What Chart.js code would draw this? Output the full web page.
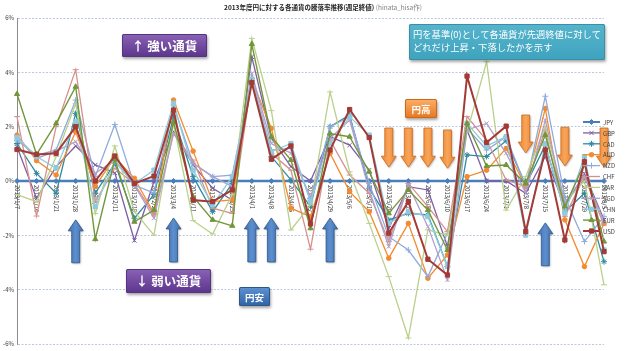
<!DOCTYPE html>
<html><head><meta charset="utf-8">
<script src="https://cdn.jsdelivr.net/npm/chart.js@4/dist/chart.umd.min.js"></script>
<style>html,body{margin:0;padding:0;background:#fff;}#wrap{width:640px;height:351px;position:relative;}</style>
</head><body><div id="wrap"><canvas id="c" width="640" height="351"></canvas></div>
<script>
const categories = ['2013/1/7','2013/1/14','2013/1/21','2013/1/28','2013/2/4','2013/2/11','2013/2/18','2013/2/25','2013/3/4','2013/3/11','2013/3/18','2013/3/25','2013/4/1','2013/4/8','2013/4/15','2013/4/22','2013/4/29','2013/5/6','2013/5/13','2013/5/20','2013/5/27','2013/6/3','2013/6/10','2013/6/17','2013/6/24','2013/7/1','2013/7/8','2013/7/15','2013/7/22','2013/7/29','2013/8/5'];
const JPY = [0,0,0,0,0,0,0,0,0,0,0,0,0,0,0,0,0,0,0,0,0,0,0,0,0,0,0,0,0,0,0];
const GBP = [1.26,-0.64,0.53,1.29,0.59,0.3,-2.19,-0.02,1.81,0.59,-0.27,-0.7,4.57,1.57,0.53,0,1.63,1.32,0.4,-1.74,-0.21,-0.33,-2.41,1.88,0,0,-0.45,0.9,-0.94,0.28,-1.43];
const CAD = [1.38,0.28,-0.45,2.49,-0.45,0.65,-1.37,-0.5,2.36,0.16,-1.13,-0.09,3.7,0.9,0.04,-0.94,2.0,2.43,-0.27,-1.43,-1.19,-1.25,-3.15,0.96,0.9,1.48,-0.15,1.32,-1.13,-0.45,-2.97];
const AUD = [1.69,0.75,0.22,1.81,-0.2,0.87,0.1,-1.19,2.98,1.1,-0.76,-0.7,3.71,1.94,-1.0,-1.31,1.02,-0.39,-1.13,-2.84,-1.56,-3.58,-2.72,0.16,0.4,1.2,-0.2,2.67,-1.43,-3.15,-1.56];
const NZD = [1.5,0.95,1.14,2.98,0.16,2.08,-0.15,-0.45,2.79,0.65,0.16,0.22,3.8,1.14,1.2,-0.7,2.0,2.36,-0.09,-2.05,-2.54,-3.52,-1.92,1.94,1.14,1.63,-0.2,3.12,-0.6,-2.23,-1.3];
const CHF = [2.37,-1.29,2.0,4.1,-0.76,0.47,-0.1,-1.25,1.75,0.77,-1.0,-1.19,3.77,1.02,0.4,-2.51,1.5,0.22,-0.45,-2.23,-0.09,-0.94,-1.86,2.37,1.5,0.04,-0.2,1.88,-1.3,0.16,-1.62];
const ZAR = [-0.5,-0.76,0.9,2.85,-1.2,1.29,-1.13,-1.99,2.12,-1.46,-1.95,-0.5,5.25,2.59,-1.8,-0.88,3.28,0.34,-1.56,-3.52,-5.78,-1.8,-2.0,1.8,4.39,-1.07,0.16,2.0,-0.8,0.0,-3.82];
const SGD = [1.65,0.83,1.1,1.45,0.28,0.77,-0.15,-1.37,1.75,0.65,0.16,-0.2,3.96,1.38,1.02,-0.58,1.57,2.24,-0.33,-2.41,-0.15,-1.68,-3.64,1.88,2.12,1.02,-0.45,2.24,-0.8,0.2,-1.5];
const CHN = [1.6,0.9,0.47,2.18,-0.94,0.71,-0.1,0.4,2.86,0.4,-0.88,0.16,3.74,1.08,1.38,-0.76,1.38,2.36,1.69,-1.56,-1.13,-1.31,-3.15,2.12,1.29,1.63,-1.99,1.38,-1.19,0.9,-2.54];
const EUR = [3.2,0.98,2.12,3.47,-2.14,0.8,-1.5,-1.07,2.18,-0.58,-1.43,-1.65,5.04,1.63,0.77,-1.74,1.75,1.63,0.34,-1.19,-0.33,-1.07,-2.54,2.12,0.55,0.59,-0.09,1.69,-0.94,0.65,-2.23];
const USD = [1.16,0.98,1.02,2.0,0,0.92,-0.09,0.18,2.61,-0.7,-0.76,-0.33,3.62,0.8,1.29,-1.58,1.14,2.63,1.6,-1.92,-0.76,-2.88,-3.46,3.86,1.42,2.02,-1.86,1.14,-2.17,0.71,-2.6];
const seriesNames = ['JPY','GBP','CAD','AUD','NZD','CHF','ZAR','SGD','CHN','EUR','USD'];
const seriesData = [JPY,GBP,CAD,AUD,NZD,CHF,ZAR,SGD,CHN,EUR,USD];
const yMin = -6, yMax = 6, yStep = 2;
const titleMain = '2013年度円に対する各通貨の騰落率推移(週足終値)';
const titleSub = ' (hinata_hisa作)';
const upArrows = [[3,-1.43,-3.01],[8,-1.36,-2.98],[12,-1.36,-2.98],[13,-1.36,-2.98],[16,-1.36,-2.98],[27,-1.54,-3.12]];
const downArrows = [[19,1.95,0.51],[20,1.95,0.51],[21,1.95,0.51],[22,1.88,0.47],[26,2.43,1.03],[28,1.98,0.55],[30,1.95,0.51]];

const styles = [
  {c:'#4A7EBB', ps:'rectRot', r:2.5, w:2.5},
  {c:'#7E5EA3', ps:'crossRot', r:3, w:1.3},
  {c:'#2F8AA0', ps:'star', r:3, w:1.3},
  {c:'#F38B2E', ps:'circle', r:2.3, w:1.3},
  {c:'#8FAADC', ps:'cross', r:3, w:1.3},
  {c:'#D7908D', ps:'line', r:3, w:1.3},
  {c:'#B9D08A', ps:'line', r:3, w:1.3},
  {c:'#B09FC9', ps:'crossRot', r:3, w:1.3},
  {c:'#8FCBDD', ps:'rect', r:3, w:1.3},
  {c:'#72963A', ps:'triangle', r:3, w:1.4},
  {c:'#A33A36', ps:'rect', r:3, w:2}
];

const datasets = seriesNames.map((n,i)=>({
  label:n, data:seriesData[i], borderColor:styles[i].c, backgroundColor:styles[i].c,
  borderWidth:styles[i].w, pointStyle:styles[i].ps, pointRadius:styles[i].r,
  pointBorderWidth:1, pointBackgroundColor:styles[i].c, pointBorderColor:styles[i].c,
  tension:0, order: (i===0 ? 5 : -i)
}));

const FONT = '"Noto Sans CJK JP", "Noto Sans", sans-serif';

function rr(ctx,x,y,w,h,r){ctx.beginPath();ctx.moveTo(x+r,y);ctx.lineTo(x+w-r,y);ctx.quadraticCurveTo(x+w,y,x+w,y+r);ctx.lineTo(x+w,y+h-r);ctx.quadraticCurveTo(x+w,y+h,x+w-r,y+h);ctx.lineTo(x+r,y+h);ctx.quadraticCurveTo(x,y+h,x,y+h-r);ctx.lineTo(x,y+r);ctx.quadraticCurveTo(x,y,x+r,y);ctx.closePath();}

function box(ctx,x,y,w,h,c1,c2,border,lines,fs,align){
  ctx.save();
  ctx.shadowColor='rgba(0,0,0,0.35)';ctx.shadowBlur=3;ctx.shadowOffsetX=1;ctx.shadowOffsetY=2;
  const g=ctx.createLinearGradient(0,y,0,y+h);g.addColorStop(0,c1);g.addColorStop(1,c2);
  ctx.fillStyle=g;rr(ctx,x,y,w,h,1.5);ctx.fill();
  ctx.shadowColor='transparent';
  ctx.strokeStyle=border;ctx.lineWidth=1;rr(ctx,x+0.5,y+0.5,w-1,h-1,1.5);ctx.stroke();
  ctx.fillStyle='#fff';ctx.font=fs;ctx.textBaseline='middle';
  if(align==='left'){ctx.textAlign='left';lines.forEach(l=>ctx.fillText(l[0],x+l[1],y+l[2]));}
  else{ctx.textAlign='center';ctx.fillText(lines[0],x+w/2,y+h/2+0.5);}
  ctx.restore();
}

function arrow(ctx,cx,yA,yB,up,c1,c2,border){
  const top=Math.min(yA,yB), bot=Math.max(yA,yB);
  const sw=4, hw=7.5, hl=11;
  ctx.save();
  ctx.shadowColor='rgba(0,0,0,0.3)';ctx.shadowBlur=2;ctx.shadowOffsetX=1;ctx.shadowOffsetY=1;
  ctx.beginPath();
  if(up){
    ctx.moveTo(cx,top);ctx.lineTo(cx+hw,top+hl);ctx.lineTo(cx+sw,top+hl);ctx.lineTo(cx+sw,bot);
    ctx.lineTo(cx-sw,bot);ctx.lineTo(cx-sw,top+hl);ctx.lineTo(cx-hw,top+hl);
  } else {
    ctx.moveTo(cx,bot);ctx.lineTo(cx+hw,bot-hl);ctx.lineTo(cx+sw,bot-hl);ctx.lineTo(cx+sw,top);
    ctx.lineTo(cx-sw,top);ctx.lineTo(cx-sw,bot-hl);ctx.lineTo(cx-hw,bot-hl);
  }
  ctx.closePath();
  const g=ctx.createLinearGradient(cx-hw,0,cx+hw,0);g.addColorStop(0,c1);g.addColorStop(0.5,c2);g.addColorStop(1,c1);
  ctx.fillStyle=g;ctx.fill();
  ctx.shadowColor='transparent';
  ctx.strokeStyle=border;ctx.lineWidth=0.8;ctx.stroke();
  ctx.restore();
}

const xLabelPlugin = {
  id:'xlabels',
  beforeDatasetsDraw(chart){
    const ctx=chart.ctx, xs=chart.scales.x, ys=chart.scales.y;
    const y0=ys.getPixelForValue(0);
    ctx.save();ctx.font='5.8px '+FONT;ctx.fillStyle='#333';ctx.textAlign='left';ctx.textBaseline='middle';
    categories.forEach((c,i)=>{const x=xs.getPixelForValue(i);ctx.save();ctx.translate(x,y0+4);ctx.rotate(Math.PI/2);ctx.fillText(c,0,0);ctx.restore();});
    ctx.restore();
  }
};

const decoPlugin = {
  id:'deco',
  afterDatasetsDraw(chart){
    const ctx=chart.ctx, xs=chart.scales.x, ys=chart.scales.y;
    upArrows.forEach(a=>arrow(ctx,xs.getPixelForValue(a[0]),ys.getPixelForValue(a[1]),ys.getPixelForValue(a[2]),true,'#3F6FAE','#5D8FCF','#2F5687'));
    downArrows.forEach(a=>arrow(ctx,xs.getPixelForValue(a[0]),ys.getPixelForValue(a[1]),ys.getPixelForValue(a[2]),false,'#E8832F','#F9A559','#C9691E'));
    box(ctx,122,34,85,23,'#8A62B6','#5B358C','#55357F',['↑ 強い通貨'],'bold 12.5px '+FONT);
    box(ctx,126,269,85,24,'#8A62B6','#5B358C','#55357F',['↓ 弱い通貨'],'bold 12.5px '+FONT);
    box(ctx,239,287,31,19,'#5E92D2','#2F63A6','#2F5687',['円安'],'bold 9.5px '+FONT);
    box(ctx,405,99,32,19,'#FBB06A','#E8761E','#C9691E',['円高'],'bold 9.5px '+FONT);
    box(ctx,409,24,196,36,'#56B4CC','#3FA3BE','#3A8EA6',[['円を基準(0)として各通貨が先週終値に対して',4,10],['どれだけ上昇・下落したかを示す',4,23]],'9.3px '+FONT,'left');
    ctx.save();
    ctx.textBaseline='middle';ctx.textAlign='left';
    ctx.font='bold 6.5px '+FONT;
    const w1=ctx.measureText(titleMain).width;
    ctx.font='6.5px '+FONT;
    const w2=ctx.measureText(titleSub).width;
    const sx=323-(w1+w2)/2;
    ctx.font='bold 6.5px '+FONT;ctx.fillStyle='#222';ctx.fillText(titleMain,sx,8);
    ctx.font='6.5px '+FONT;ctx.fillStyle='#7F7F7F';ctx.fillText(titleSub,sx+w1,8);
    ctx.restore();
  },
  afterDraw(chart){
    const ctx=chart.ctx;
    const H=Chart.helpers;
    ctx.save();
    seriesNames.forEach((n,i)=>{
      const y=122+i*10.9, s=styles[i];
      ctx.strokeStyle=s.c;ctx.lineWidth=Math.min(s.w,2);ctx.beginPath();ctx.moveTo(583,y);ctx.lineTo(600,y);ctx.stroke();
      ctx.fillStyle=s.c;ctx.strokeStyle=s.c;ctx.lineWidth=1;
      H.drawPoint(ctx,{pointStyle:s.ps,radius:s.r,borderWidth:1,rotation:0},591.5,y);
      ctx.fillStyle='#404040';ctx.font='6px '+FONT;ctx.textAlign='left';ctx.textBaseline='middle';
      ctx.fillText(n,603,y+0.5);
    });
    ctx.restore();
  }
};

new Chart(document.getElementById('c'),{
  type:'line',
  data:{labels:categories,datasets},
  options:{
    responsive:false, animation:false, devicePixelRatio:1,
    layout:{padding:{top:18,bottom:7,right:36,left:0}},
    plugins:{legend:{display:false},tooltip:{enabled:false},title:{display:false}},
    scales:{
      x:{type:'category',display:false,offset:false},
      y:{min:yMin,max:yMax,
        ticks:{stepSize:yStep,callback:v=>v+'%',font:{size:6,family:FONT},color:'#404040',padding:3},
        grid:{color:'#A9BDD4',lineWidth:0.8,drawTicks:false},
        border:{display:true,color:'#8C8C8C',width:1,dash:[2,1.5]},
        afterFit:s=>{s.width=17;}
      }
    }
  },
  plugins:[xLabelPlugin,decoPlugin]
});
</script></body></html>
